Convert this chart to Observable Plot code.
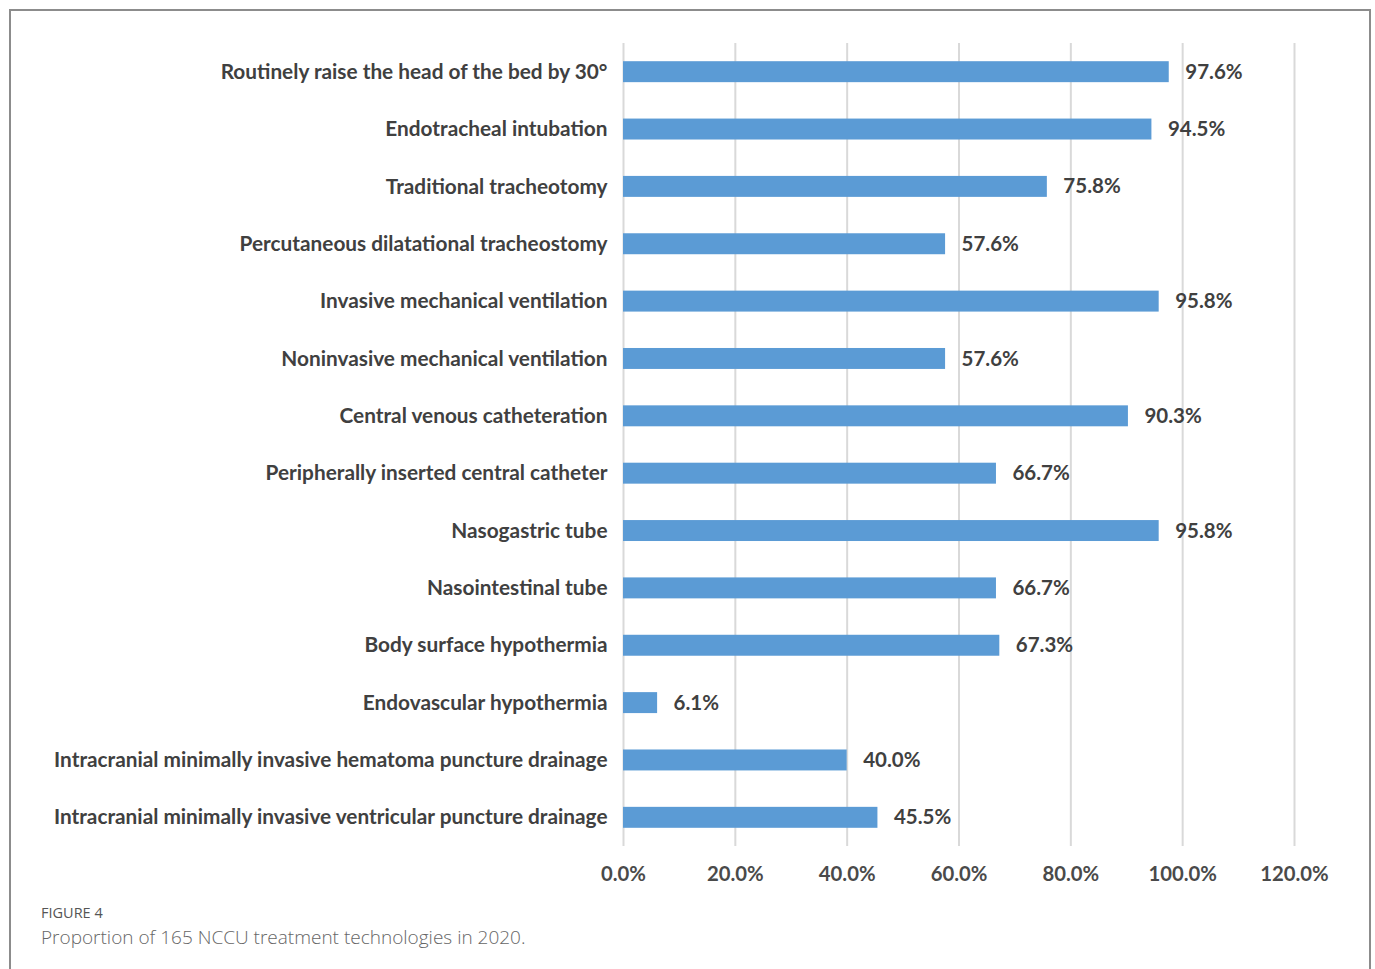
<!DOCTYPE html>
<html>
<head>
<meta charset="utf-8">
<script src="https://cdn.jsdelivr.net/npm/d3@7"></script>
<script src="https://cdn.jsdelivr.net/npm/@observablehq/plot@0.6"></script>
<style>
  html, body { margin: 0; padding: 0; background: #fff; }
  #frame { position: absolute; left: 9px; top: 9px; width: 1358px; height: 1000px; border: 2px solid #8c8c8c; border-bottom: none; pointer-events: none; }
  #chart { position: absolute; left: 0; top: 0; }
  #fig { position: absolute; left: 41px; top: 903px; font-family: "Open Sans", sans-serif; font-size: 14.5px; color: #555; }
  #cap { position: absolute; left: 41px; top: 924px; font-family: "Open Sans", sans-serif; font-weight: 300; font-size: 19px; color: #666; }
</style>
</head>
<body>
<div id="chart"></div>
<div id="frame"></div>
<div id="fig">FIGURE 4</div>
<div id="cap">Proportion of 165 NCCU treatment technologies in 2020.</div>
<script>
const categories = [
  "Routinely raise the head of the bed by 30°",
  "Endotracheal intubation",
  "Traditional tracheotomy",
  "Percutaneous dilatational tracheostomy",
  "Invasive mechanical ventilation",
  "Noninvasive mechanical ventilation",
  "Central venous catheteration",
  "Peripherally inserted central catheter",
  "Nasogastric tube",
  "Nasointestinal tube",
  "Body surface hypothermia",
  "Endovascular hypothermia",
  "Intracranial minimally invasive hematoma puncture drainage",
  "Intracranial minimally invasive ventricular puncture drainage"
];
const values = [97.6, 94.5, 75.8, 57.6, 95.8, 57.6, 90.3, 66.7, 95.8, 66.7, 67.3, 6.1, 40.0, 45.5];
const xTicks = [0, 20, 40, 60, 80, 100, 120];

const data = categories.map((c, i) => ({category: c, value: values[i]}));
const fmt = d => d.toFixed(1) + "%";

const plot = Plot.plot({
  width: 1375,
  height: 900,
  marginLeft: 623,
  marginRight: 81,
  marginTop: 43,
  marginBottom: 54,
  style: {fontFamily: "Lato, sans-serif", fontWeight: "bold", fontSize: "20.8px", color: "#404040", background: "transparent"},
  x: {domain: [0, 120], ticks: xTicks, tickFormat: fmt},
  y: {domain: categories, padding: 0, round: false},
  marks: [
    Plot.ruleX(xTicks, {stroke: "#d9d9d9", strokeWidth: 2}),
    Plot.barX(data, {y: "category", x: "value", fill: "#5b9bd5", insetTop: 18.2, insetBottom: 18.2}),
    Plot.text(data, {y: "category", x: "value", text: d => fmt(d.value), textAnchor: "start", dx: 16, fill: "#404040", fontSize: 20.5, fontWeight: "bold"}),
    Plot.axisY({tickSize: 0, tickPadding: 16, label: null, fill: "#404040", fontSize: 20.8}),
    Plot.axisX(xTicks, {tickSize: 0, tickPadding: 20, label: null, fill: "#4a4a4a", fontSize: 20.3, tickFormat: fmt})
  ]
});
document.getElementById("chart").appendChild(plot);
</script>
</body>
</html>
